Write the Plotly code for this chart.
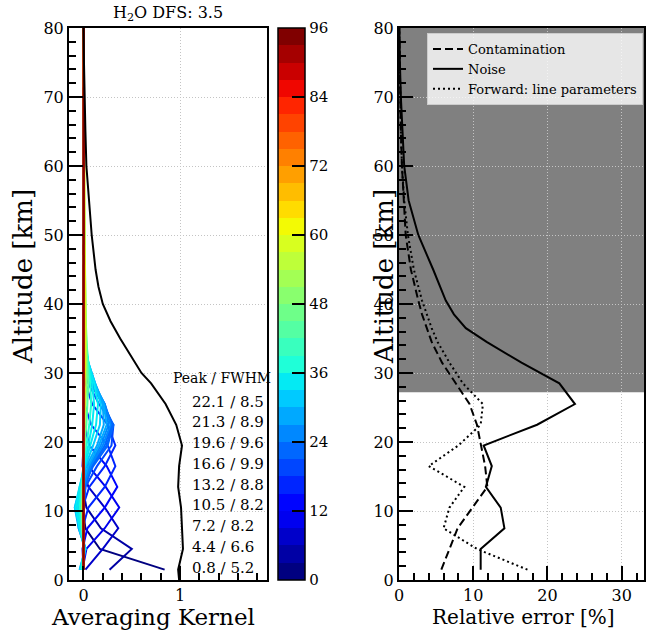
import numpy as np
import plotly.graph_objects as go

# ---------------- data ----------------
ak_alt = [1.5, 4.5, 7.5, 10.5, 13.5, 16.5, 19.5, 22.5, 25.5, 28.5, 31.5, 34.5, 40, 50, 60, 70, 80]
ak_index = [2, 5, 8, 11, 13, 15, 17, 19, 21, 22, 23, 25, 26, 27, 29, 31, 33, 35, 37, 42, 50, 58, 66, 74, 82, 90, 96]
ak_rows = [
    [0.84, 0.17, 0.02, -0.01, 0.00, 0, 0, 0, 0, 0, 0, 0, 0, 0, 0, 0, 0],
    [0.27, 0.50, 0.18, 0.03, -0.01, 0, 0, 0, 0, 0, 0, 0, 0, 0, 0, 0, 0],
    [0.02, 0.20, 0.36, 0.22, 0.05, -0.01, 0, 0, 0, 0, 0, 0, 0, 0, 0, 0, 0],
    [-0.01, 0.03, 0.22, 0.37, 0.23, 0.05, 0.00, 0, 0, 0, 0, 0, 0, 0, 0, 0, 0],
    [0.00, -0.01, 0.04, 0.22, 0.35, 0.24, 0.06, 0.01, 0, 0, 0, 0, 0, 0, 0, 0, 0],
    [0, 0, -0.01, 0.05, 0.22, 0.33, 0.25, 0.08, 0.01, 0, 0, 0, 0, 0, 0, 0, 0],
    [0, 0, 0, -0.01, 0.06, 0.22, 0.33, 0.25, 0.09, 0.02, 0, 0, 0, 0, 0, 0, 0],
    [0, 0, 0, 0, 0.02, 0.14, 0.29, 0.31, 0.16, 0.05, 0.01, 0, 0, 0, 0, 0, 0],
    [0, 0, 0, 0, 0.00, 0.10, 0.25, 0.31, 0.20, 0.07, 0.01, 0, 0, 0, 0, 0, 0],
    [0, 0.01, 0, -0.01, 0.01, 0.09, 0.24, 0.30, 0.21, 0.08, 0.02, 0, 0, 0, 0, 0, 0],
    [0.00, 0.01, -0.01, 0.00, 0.02, 0.08, 0.22, 0.29, 0.22, 0.09, 0.02, 0.00, 0, 0, 0, 0, 0],
    [-0.02, 0.01, -0.03, -0.04, 0.00, 0.07, 0.20, 0.28, 0.22, 0.10, 0.03, 0.00, 0, 0, 0, 0, 0],
    [-0.02, 0.02, -0.04, -0.05, -0.01, 0.06, 0.18, 0.26, 0.22, 0.11, 0.03, 0.01, 0, 0, 0, 0, 0],
    [-0.03, 0.02, -0.05, -0.07, -0.02, 0.05, 0.16, 0.24, 0.21, 0.12, 0.04, 0.01, 0, 0, 0, 0, 0],
    [-0.04, 0.02, -0.05, -0.09, -0.03, 0.03, 0.14, 0.21, 0.20, 0.12, 0.05, 0.01, 0, 0, 0, 0, 0],
    [-0.04, 0.02, -0.04, -0.09, -0.04, 0.02, 0.10, 0.17, 0.18, 0.12, 0.05, 0.01, 0, 0, 0, 0, 0],
    [-0.03, 0.01, -0.04, -0.08, -0.04, 0.01, 0.07, 0.13, 0.15, 0.11, 0.05, 0.01, 0, 0, 0, 0, 0],
    [-0.02, 0.01, -0.03, -0.06, -0.03, 0.00, 0.05, 0.09, 0.11, 0.09, 0.05, 0.02, 0.01, 0, 0, 0, 0],
    [-0.02, 0.01, -0.02, -0.04, -0.02, 0.00, 0.03, 0.06, 0.08, 0.07, 0.05, 0.03, 0.01, 0, 0, 0, 0],
    [-0.01, 0.00, -0.01, -0.02, -0.01, 0.00, 0.01, 0.03, 0.04, 0.05, 0.04, 0.03, 0.02, 0.01, 0, 0, 0],
    [0, 0, -0.01, -0.01, -0.01, 0, 0.01, 0.01, 0.02, 0.03, 0.03, 0.03, 0.02, 0.01, 0.005, 0, 0],
    [0, 0, 0, -0.01, 0, 0, 0, 0.01, 0.01, 0.01, 0.02, 0.02, 0.02, 0.01, 0.01, 0, 0],
    [0, 0, 0, 0, 0, 0, 0, 0, 0.01, 0.01, 0.01, 0.01, 0.01, 0.01, 0.005, 0.005, 0],
    [0, 0, 0, 0, 0, 0, 0, 0, 0, 0, 0.005, 0.005, 0.005, 0.005, 0.005, 0.003, 0],
    [0, 0, 0, 0, 0, 0, 0, 0, 0, 0, 0, 0, 0.003, 0.004, 0.004, 0.003, 0.001],
    [0, 0, 0, 0, 0, 0, 0, 0, 0, 0, 0, 0, 0.002, 0.003, 0.003, 0.003, 0.002],
    [0, 0, 0, 0, 0, 0, 0, 0, 0, 0, 0, 0, 0, 0.001, 0.002, 0.002, 0.002],
]
ak_sum_alt = [0, 1.5, 4.5, 7.5, 10.5, 13.5, 16.5, 19.5, 22.5, 25.5, 28.5, 30, 32.5, 35, 37.5,
              40, 42.5, 45, 50, 55, 60, 65, 70, 75, 80]
ak_sum = [0.99, 0.98, 1.03, 1.02, 1.01, 0.98, 0.99, 1.02, 0.96, 0.85, 0.70, 0.60, 0.49, 0.38, 0.28,
          0.20, 0.155, 0.125, 0.085, 0.055, 0.03, 0.02, 0.01, 0.005, 0.0]

peak_km = ["22.1", "21.3", "19.6", "16.6", "13.2", "10.5", "7.2", "4.4", "0.8"]
fwhm_km = ["8.5", "8.9", "9.6", "9.9", "8.8", "8.2", "8.2", "6.6", "5.2"]
dfs = 3.5

err_alt = [1.5, 4.5, 7.5, 10.5, 13.5, 16.5, 19.5, 22.5, 25.5, 28.5, 31.5, 34.5, 36.5, 38.5,
           40.5, 45, 50, 55, 60, 65, 70, 75, 80]
err_contamination = [5.7, 6.8, 7.9, 9.9, 11.9, 11.6, 11.0, 10.5, 9.5, 7.7, 5.8, 4.4, 3.7, 3.1,
                     2.6, 1.6, 0.9, 0.6, 0.4, 0.25, 0.15, 0.08, 0.03]
err_noise = [11.0, 11.0, 14.2, 13.7, 11.7, 12.5, 11.4, 18.6, 23.7, 21.6, 16.5, 11.8, 9.0, 7.4,
             6.3, 4.6, 2.6, 1.3, 0.7, 0.45, 0.25, 0.12, 0.05]
err_forward = [17.3, 10.5, 6.0, 6.8, 8.8, 4.0, 8.0, 11.0, 11.3, 8.6, 6.8, 5.2, 4.4, 3.7,
               3.1, 2.0, 1.2, 0.7, 0.4, 0.25, 0.15, 0.08, 0.03]
shade_bottom_km = 27.2

cbar_min, cbar_max, cbar_step, cbar_major = 0, 96, 3, 12

# ---------------- styling ----------------
FONT = "DejaVu Serif"
W, H = 655, 637
PLOT_TOP, PLOT_BOT = 28, 580
CB_X0, CB_X1 = 278, 305


def jet(t):
    r = np.interp(t, [0, 0.35, 0.66, 0.89, 1], [0, 0, 1, 1, 0.5])
    g = np.interp(t, [0, 0.125, 0.375, 0.64, 0.91, 1], [0, 0, 1, 1, 0, 0])
    b = np.interp(t, [0, 0.11, 0.34, 0.65, 1], [0.5, 1, 1, 0, 0])
    return "rgb(%d,%d,%d)" % (round(r * 255), round(g * 255), round(b * 255))


nb = (cbar_max - cbar_min) // cbar_step
band_cols = [jet(k / (nb - 1)) for k in range(nb)]
cscale = []
for k, c in enumerate(band_cols):
    cscale.append([k / nb, c])
    cscale.append([(k + 1) / nb, c])


def idx_color(v):
    k = int(min(max((v - cbar_min) // cbar_step, 0), nb - 1))
    return band_cols[k]


fig = go.Figure()
for idx, row in zip(ak_index, ak_rows):
    fig.add_trace(go.Scatter(x=row, y=ak_alt, mode="lines",
                             line=dict(color=idx_color(idx), width=2),
                             showlegend=False, xaxis="x", yaxis="y", hoverinfo="skip"))
fig.add_trace(go.Scatter(x=ak_sum, y=ak_sum_alt, mode="lines",
                         line=dict(color="black", width=2),
                         showlegend=False, xaxis="x", yaxis="y"))

cb_y0 = 1 - PLOT_BOT / H
cb_len = (PLOT_BOT - PLOT_TOP) / H
fig.add_trace(go.Scatter(
    x=[None], y=[None], mode="markers", xaxis="x", yaxis="y", showlegend=False,
    marker=dict(color=[cbar_min], cmin=cbar_min, cmax=cbar_max, colorscale=cscale,
                showscale=True,
                colorbar=dict(
                    x=CB_X0 / W, xanchor="left", xpad=0,
                    y=cb_y0, yanchor="bottom", ypad=0,
                    len=cb_len, lenmode="fraction",
                    thickness=CB_X1 - CB_X0, thicknessmode="pixels",
                    outlinewidth=1.5, outlinecolor="black",
                    tickmode="linear", tick0=cbar_min, dtick=cbar_major,
                    ticks="inside", ticklen=13, tickwidth=2, tickcolor="black",
                    tickfont=dict(family=FONT, size=15, color="black"),
                ))))

fig.add_trace(go.Scatter(x=err_contamination, y=err_alt, mode="lines", name="Contamination",
                         line=dict(color="black", width=2, dash="8px,4px"),
                         xaxis="x2", yaxis="y2"))
fig.add_trace(go.Scatter(x=err_noise, y=err_alt, mode="lines", name="Noise",
                         line=dict(color="black", width=2),
                         xaxis="x2", yaxis="y2"))
fig.add_trace(go.Scatter(x=err_forward, y=err_alt, mode="lines", name="Forward: line parameters",
                         line=dict(color="black", width=2, dash="2px,3px"),
                         xaxis="x2", yaxis="y2"))

ydom = [1 - PLOT_BOT / H, 1 - PLOT_TOP / H]
ax_common = dict(showline=True, linewidth=2, linecolor="black", mirror=True,
                 ticks="inside", ticklen=14, tickwidth=2, tickcolor="black",
                 showgrid=True, gridcolor="#c4c4c4", gridwidth=1, griddash="1px,2px",
                 zeroline=False, automargin=False,
                 tickfont=dict(family=FONT, size=16, color="black"))


def minor(dt):
    return dict(tick0=0, dtick=dt, ticks="inside", ticklen=7, tickwidth=1.5,
                tickcolor="black", showgrid=False)


shapes = [dict(type="rect", xref="x2 domain", x0=0, x1=1, yref="y2",
               y0=shade_bottom_km, y1=80, fillcolor="#808080", line=dict(width=0),
               layer="below")]
for v in range(cbar_min, cbar_max + 1, cbar_step):
    if v % cbar_major:
        yp = cb_y0 + cb_len * (v - cbar_min) / (cbar_max - cbar_min)
        shapes.append(dict(type="line", xref="paper", yref="paper",
                           x0=(CB_X1 - 7) / W, x1=CB_X1 / W, y0=yp, y1=yp,
                           line=dict(color="black", width=1.5)))

fig.update_layout(
    template="none",
    width=W, height=H, margin=dict(l=0, r=0, t=0, b=0, pad=0, autoexpand=False),
    paper_bgcolor="white", plot_bgcolor="white",
    font=dict(family=FONT, color="black"),
    xaxis=dict(domain=[69 / W, 267 / W], anchor="y", range=[-0.15, 1.9], tick0=0, dtick=1,
               minor=minor(0.2), **ax_common),
    yaxis=dict(domain=ydom, anchor="x", range=[0, 80], tick0=0, dtick=10,
               minor=minor(2), **ax_common),
    xaxis2=dict(domain=[399 / W, 644 / W], anchor="y2", range=[0, 33], tick0=0, dtick=10,
                minor=minor(2), **ax_common),
    yaxis2=dict(domain=ydom, anchor="x2", range=[0, 80], tick0=0, dtick=10,
                minor=minor(2), **ax_common),
    legend=dict(x=427 / W, y=1 - 33 / H, xanchor="left", yanchor="top",
                bgcolor="rgba(255,255,255,0.8)", bordercolor="#cccccc", borderwidth=1,
                font=dict(family=FONT, size=13, color="black"), tracegroupgap=0),
    shapes=shapes,
)

ann = []
ann.append(dict(text="H<sub>2</sub>O DFS: %.1f" % dfs, xref="paper", yref="paper",
                x=168 / W, y=1 - 13 / H, showarrow=False,
                font=dict(family=FONT, size=16), xanchor="center", yanchor="middle"))
ann.append(dict(text="Altitude [km]", xref="paper", yref="paper", x=23 / W, y=1 - 277 / H,
                textangle=-90, showarrow=False, font=dict(family=FONT, size=26),
                xanchor="center", yanchor="middle"))
ann.append(dict(text="Altitude [km]", xref="paper", yref="paper", x=384 / W, y=1 - 277 / H,
                textangle=-90, showarrow=False, font=dict(family=FONT, size=26),
                xanchor="center", yanchor="middle"))
ann.append(dict(text="Averaging Kernel", xref="paper", yref="paper", x=153 / W, y=1 - 617 / H,
                showarrow=False, font=dict(family=FONT, size=23),
                xanchor="center", yanchor="middle"))
ann.append(dict(text="Relative error [%]", xref="paper", yref="paper", x=523 / W, y=1 - 617 / H,
                showarrow=False, font=dict(family=FONT, size=20),
                xanchor="center", yanchor="middle"))
ann.append(dict(text="Peak / FWHM", xref="x", yref="y", x=0.91, y=29.3, showarrow=False,
                font=dict(family=FONT, size=14), xanchor="left", yanchor="middle"))
for i, (p, f) in enumerate(zip(peak_km, fwhm_km)):
    ann.append(dict(text="%s / %s" % (p, f), xref="x", yref="y", x=1.10, y=25.85 - 3.01 * i,
                    showarrow=False, font=dict(family=FONT, size=15),
                    xanchor="left", yanchor="middle"))
fig.update_layout(annotations=ann)

fig.write_html("out.html")
